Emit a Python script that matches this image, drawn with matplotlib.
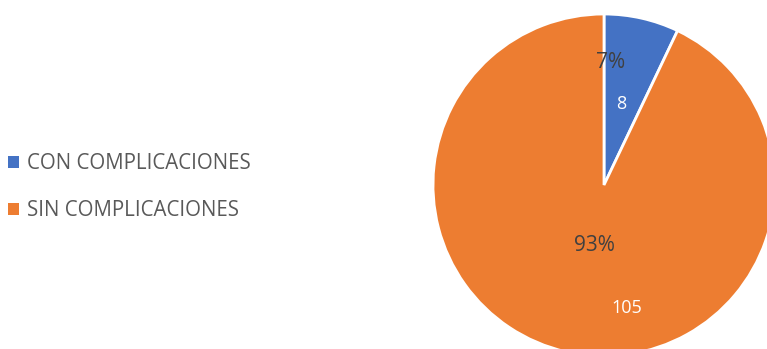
import matplotlib
matplotlib.use("Agg")
import matplotlib.pyplot as plt

categories = ["CON COMPLICACIONES", "SIN COMPLICACIONES"]
values = [8, 105]
percent_labels = ["7%", "93%"]
colors = ["#4472C4", "#ED7D31"]

W, H = 767, 349
fig = plt.figure(figsize=(W / 100, H / 100), dpi=100)
cx, cy, r = 604, 185, 171
ax = fig.add_axes([(cx - r) / W, (H - cy - r) / H, 2 * r / W, 2 * r / H])
wedges, _ = ax.pie(values, colors=colors, startangle=90, counterclock=False,
                   radius=1, wedgeprops=dict(edgecolor="white", linewidth=2))
ax.set_xlim(-1, 1)
ax.set_ylim(-1, 1)
ax.set_aspect("equal")
ax.axis("off")
for w in wedges:
    w.set_clip_on(False)

font = ["Open Sans", "DejaVu Sans"]
pct_pos = [(0.041, 0.719), (-0.058, -0.351)]
val_pos = [(0.099, 0.474), (0.134, -0.719)]
for (px, py), t in zip(pct_pos, percent_labels):
    ax.text(px, py, t, ha="center", va="center", fontsize=15, color="#404040", family=font)
for (px, py), v in zip(val_pos, values):
    ax.text(px, py, str(v), ha="center", va="center", fontsize=13, color="white", family=font)

leg = fig.legend(wedges, categories, loc="upper left", bbox_to_anchor=(0.0, 1 - 145 / H),
                 frameon=False, handlelength=0.5, handleheight=0.5, handletextpad=0.4,
                 labelspacing=1.27, prop=dict(family=font, size=14.8), borderaxespad=0)
for t in leg.get_texts():
    t.set_color("#595959")
for h in leg.legend_handles:
    h.set_edgecolor("none")

fig.savefig("out.png", dpi=100)
